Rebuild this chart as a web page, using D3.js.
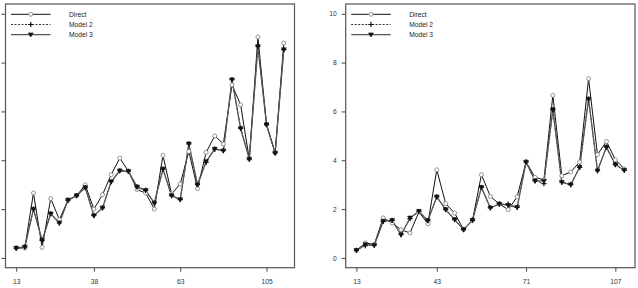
<!DOCTYPE html>
<html>
<head>
<meta charset="utf-8">
<script src="https://cdn.jsdelivr.net/npm/d3@7"></script>
<style>
  body { margin: 0; background: #fff; }
  svg { display: block; font-family: "Liberation Sans", Arial, sans-serif; }
</style>
</head>
<body>
<div id="chart"></div>
<script>
const width = 638;
const height = 288;

const seriesNames = ["Direct", "Model 2", "Model 3"];
const yTicks = [0, 2, 4, 6, 8, 10];

// left panel
const leftTickIdx = [0, 9, 19, 29];
const leftTickLabels = ["13", "38", "63", "105"];
const leftDirect = [0.40, 0.41, 2.66, 0.43, 2.43, 1.57, 2.36, 2.55, 2.99, 2.00, 2.59, 3.41, 4.09, 3.55, 2.80, 2.66,
  2.00, 4.20, 2.62, 3.03, 4.36, 2.84, 4.32, 5.00, 4.67, 7.09, 6.27, 4.05, 9.05, 5.46, 4.30, 8.80];
const leftModel2 = [0.40, 0.45, 2.00, 0.72, 1.81, 1.43, 2.37, 2.55, 2.88, 1.73, 2.05, 3.12, 3.57, 3.55, 2.91, 2.77,
  2.25, 3.64, 2.55, 2.39, 4.67, 3.00, 3.91, 4.46, 4.39, 7.30, 5.31, 4.05, 8.66, 5.46, 4.30, 8.53];
const leftModel3 = [0.40, 0.45, 2.00, 0.72, 1.81, 1.43, 2.37, 2.55, 2.88, 1.73, 2.05, 3.12, 3.57, 3.55, 2.91, 2.77,
  2.25, 3.64, 2.55, 2.39, 4.67, 3.00, 3.95, 4.46, 4.39, 7.30, 5.30, 4.05, 8.66, 5.46, 4.30, 8.53];

// right panel
const rightTickIdx = [0, 9, 19, 29];
const rightTickLabels = ["13", "43", "71", "107"];
const rightDirect = [0.31, 0.61, 0.55, 1.64, 1.43, 1.16, 1.02, 1.88, 1.40, 3.61, 2.22, 1.84, 1.16, 1.54, 3.41, 2.52,
  2.21, 1.98, 2.50, 3.93, 3.30, 3.20, 6.66, 3.37, 3.52, 3.93, 7.34, 4.23, 4.77, 4.02, 3.65];
const rightModel2 = [0.31, 0.50, 0.52, 1.50, 1.54, 0.95, 1.61, 1.91, 1.53, 2.50, 1.98, 1.57, 1.16, 1.54, 2.89, 2.05,
  2.21, 2.20, 2.07, 3.93, 3.16, 3.04, 6.07, 3.10, 3.00, 3.71, 6.51, 3.57, 4.54, 3.82, 3.59];
const rightModel3 = [0.31, 0.55, 0.52, 1.50, 1.54, 0.95, 1.64, 1.91, 1.53, 2.50, 1.98, 1.57, 1.16, 1.55, 2.89, 2.05,
  2.21, 2.15, 2.07, 3.93, 3.16, 3.15, 6.07, 3.10, 3.00, 3.71, 6.51, 3.57, 4.54, 3.82, 3.59];

const styles = [
  { stroke: "#111", dash: null, width: 1 },
  { stroke: "#333", dash: "2,1.5", width: 1 },
  { stroke: "#555", dash: null, width: 1.3 }
];

const svg = d3.select("#chart").append("svg")
  .attr("width", width)
  .attr("height", height);

function marker(sel, k) {
  if (k === 0) {
    sel.append("circle").attr("r", 2).attr("fill", "#fff")
      .attr("stroke", "#888").attr("stroke-width", 0.9);
  } else if (k === 1) {
    sel.append("path").attr("d", "M-2.6,0H2.6M0,-2.6V2.6")
      .attr("stroke", "#111").attr("stroke-width", 1.2);
  } else {
    sel.append("path").attr("d", "M-2.4,-1.8L2.4,-1.8L0,2.4Z")
      .attr("fill", "#111").attr("stroke", "#111").attr("stroke-width", 0.6);
  }
}

function drawPanel(left, right, series, tickIdx, tickLabels, showYLabels) {
  const top = 4, bottom = 267.7;
  const n = series[0].length - 1;
  const x = d3.scaleLinear().domain([-0.04 * n, n * 1.04]).range([left, right]);
  const y = d3.scaleLinear().domain([-0.4, 10.4]).range([bottom, top]);

  const g = svg.append("g");

  // y axis
  const ya = g.append("g").attr("transform", `translate(${left},0)`)
    .call(d3.axisLeft(y).tickValues(yTicks).tickSize(4).tickPadding(5)
      .tickFormat(showYLabels ? d3.format("d") : () => ""));
  ya.select(".domain").remove();
  ya.selectAll("line").attr("stroke", "#444");
  ya.selectAll("text").attr("font-size", 6.7).attr("fill", "#333");

  // x axis
  const xa = g.append("g").attr("transform", `translate(0,${bottom})`)
    .call(d3.axisBottom(x).tickValues(tickIdx).tickSize(4)
      .tickFormat((d, i) => tickLabels[i]));
  xa.select(".domain").remove();
  xa.selectAll("line").attr("stroke", "#444");
  xa.selectAll("text").attr("font-size", 6.7).attr("fill", "#333")
    .attr("y", 13.6).attr("dy", "0.35em");

  // box
  g.append("rect").attr("x", left).attr("y", top)
    .attr("width", right - left).attr("height", bottom - top)
    .attr("fill", "none").attr("stroke", "#555").attr("stroke-width", 1.2);

  const line = d3.line().x((d, i) => x(i)).y(d => y(d));

  series.forEach((vals, k) => {
    g.append("path").datum(vals)
      .attr("d", line)
      .attr("fill", "none")
      .attr("stroke", styles[k].stroke)
      .attr("stroke-width", styles[k].width)
      .attr("stroke-dasharray", styles[k].dash);
  });

  series.forEach((vals, k) => {
    g.append("g").selectAll("g").data(vals).enter().append("g")
      .attr("transform", (d, i) => `translate(${x(i)},${y(d)})`)
      .each(function () { marker(d3.select(this), k); });
  });

  // legend
  const lx0 = left + 5.5, lx1 = left + 45, tx = left + 63.5;
  seriesNames.forEach((name, k) => {
    const ly = 14.3 + k * 10.2;
    g.append("line").attr("x1", lx0).attr("x2", lx1).attr("y1", ly).attr("y2", ly)
      .attr("stroke", styles[k].stroke).attr("stroke-width", styles[k].width)
      .attr("stroke-dasharray", styles[k].dash);
    const m = g.append("g").attr("transform", `translate(${(lx0 + lx1) / 2},${ly})`);
    marker(m, k);
    g.append("text").attr("x", tx).attr("y", ly).attr("dy", "0.35em")
      .attr("font-size", 6.7).attr("fill", "#222").text(name);
  });
}

drawPanel(5.5, 294.5, [leftDirect, leftModel2, leftModel3], leftTickIdx, leftTickLabels, false);
drawPanel(345.7, 635, [rightDirect, rightModel2, rightModel3], rightTickIdx, rightTickLabels, true);
</script>
</body>
</html>
